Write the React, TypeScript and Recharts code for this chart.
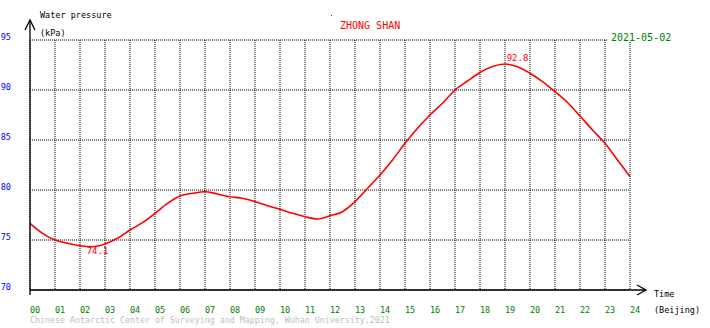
import React from "react"
import { LineChart, Line, XAxis, YAxis, CartesianGrid, ReferenceDot } from "recharts"

// half-hourly readings, Beijing time
const hours = [
    0, 0.5, 1, 1.5, 2, 2.5, 3, 3.5, 4, 4.5, 5, 5.5, 6, 6.5, 7, 7.5, 8, 8.5, 9, 9.5, 10, 10.5, 11, 11.5,
    12, 12.5, 13, 13.5, 14, 14.5, 15, 15.5, 16, 16.5, 17, 17.5, 18, 18.5, 19, 19.5, 20, 20.5, 21, 21.5,
    22, 22.5, 23, 23.5, 24,
]
const pressure = [
    76.67, 75.67, 75.0, 74.67, 74.43, 74.33, 74.6, 75.17, 76.0, 76.73, 77.67, 78.67, 79.4, 79.67, 79.83, 79.6,
    79.33, 79.17, 78.83, 78.43, 78.07, 77.67, 77.33, 77.1, 77.43, 77.83, 78.83, 80.17, 81.5, 83.0, 84.67, 86.17,
    87.5, 88.67, 90.0, 90.9, 91.75, 92.35, 92.6, 92.33, 91.67, 90.83, 89.83, 88.75, 87.4, 86.0, 84.67, 83.0,
    81.33,
]

const hourTicks = [0, 1, 2, 3, 4, 5, 6, 7, 8, 9, 10, 11, 12, 13, 14, 15, 16, 17, 18, 19, 20, 21, 22, 23, 24]
const hourLabels = [
    "00", "01", "02", "03", "04", "05", "06", "07", "08", "09", "10", "11", "12",
    "13", "14", "15", "16", "17", "18", "19", "20", "21", "22", "23", "24",
]
const pressureTicks = [70, 75, 80, 85, 90, 95]

// extreme values marked on the curve
const extremeHours = [2.7, 19.5]
const extremeValues = [74.1, 92.8]
const extremeOffsets = [5, -1]

const mono = "DejaVu Sans Mono"

const chartData = hours.map((h, i) => ({ hour: h, value: pressure[i] }))

const HourTick = (props: any) => {
    const { x, y, payload } = props
    const i = hourTicks.indexOf(payload.value)
    return (
        <text x={x} y={y + 14.5} fill="#008000" fontSize={8.5} fontFamily={mono} textAnchor="start">
            {hourLabels[i]}
        </text>
    )
}

const PressureTick = (props: any) => {
    const { x, y, payload } = props
    return (
        <text x={x - 11} y={y} fill="#0000ff" fontSize={8.5} fontFamily={mono} textAnchor="end">
            {payload.value}
        </text>
    )
}

export default function App() {
    return (
        <div style={{ position: "absolute", left: 0, top: 0, width: 710, height: 328, background: "#fff" }}>
            <LineChart width={710} height={328} data={chartData} margin={{ top: 40, right: 80, left: 0, bottom: 0 }}>
                <CartesianGrid stroke="#000" strokeDasharray="1 1" />
                <XAxis
                    dataKey="hour"
                    type="number"
                    domain={[0, 24]}
                    ticks={hourTicks}
                    height={38}
                    axisLine={false}
                    tickLine={false}
                    tick={<HourTick />}
                    interval={0}
                />
                <YAxis
                    type="number"
                    domain={[70, 95]}
                    ticks={pressureTicks}
                    width={30}
                    axisLine={false}
                    tickLine={false}
                    tick={<PressureTick />}
                    interval={0}
                />
                <Line
                    type="monotone"
                    dataKey="value"
                    stroke="#ff0000"
                    strokeWidth={1.6}
                    dot={false}
                    isAnimationActive={false}
                />
                {extremeHours.map((h, i) => (
                    <ReferenceDot
                        key={i}
                        x={h}
                        y={extremeValues[i]}
                        r={1}
                        fill="none"
                        stroke="none"
                        label={(p: any) => {
                            const vb = p.viewBox || {}
                            const cx = (vb.x ?? 0) + (vb.width ?? 0) / 2
                            const cy = (vb.y ?? 0) + (vb.height ?? 0) / 2
                            return (
                                <text x={cx} y={cy + extremeOffsets[i]} fill="#ff0000" fontSize={9} fontFamily={mono} textAnchor="middle">
                                    {extremeValues[i].toFixed(1)}
                                </text>
                            )
                        }}
                    />
                ))}
            </LineChart>

            {/* axes with arrows and the titles */}
            <svg width={710} height={328} style={{ position: "absolute", left: 0, top: 0, pointerEvents: "none" }}>
                <g stroke="#000" strokeWidth={1.3} fill="none">
                    <line x1={30} y1={20} x2={30} y2={295} />
                    <polyline points="25,30 30,20 35,30" />
                    <line x1={30} y1={290} x2={646} y2={290} />
                    <polyline points="637,285 646,290 637,295" />
                </g>
                <rect x={331} y={15} width={1} height={1} fill="#ff0000" />
                <rect x={607} y={31} width={68} height={10.5} fill="#fff" />
                <g fontFamily={mono}>
                    <text x={40} y={18} fontSize={8.5} fill="#000">Water pressure</text>
                    <text x={40} y={36} fontSize={8.5} fill="#000">(kPa)</text>
                    <text x={340} y={29} fontSize={10} fill="#ff0000">ZHONG SHAN</text>
                    <text x={611} y={41} fontSize={10} fill="#008000">2021-05-02</text>
                    <text x={654} y={297} fontSize={8.5} fill="#000">Time</text>
                    <text x={654} y={313} fontSize={8.5} fill="#000">(Beijing)</text>
                    <text x={30} y={323} fontSize={8.3} fill="#c0c0c0">
                        Chinese Antarctic Center of Surveying and Mapping, Wuhan University,2021
                    </text>
                </g>
            </svg>
        </div>
    )
}
